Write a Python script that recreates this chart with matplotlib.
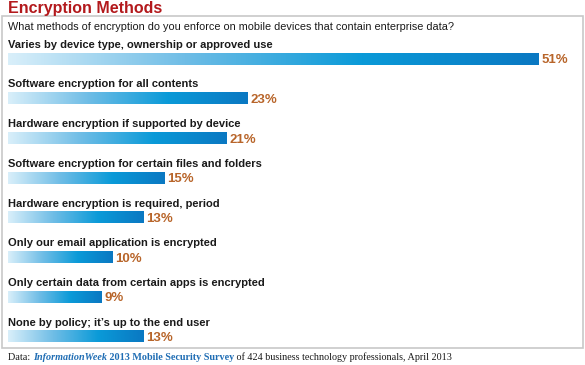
import numpy as np
import matplotlib.pyplot as plt
from matplotlib.colors import LinearSegmentedColormap
from matplotlib.patches import Rectangle

title = "Encryption Methods"
question = "What methods of encryption do you enforce on mobile devices that contain enterprise data?"
methods = [
    "Varies by device type, ownership or approved use",
    "Software encryption for all contents",
    "Hardware encryption if supported by device",
    "Software encryption for certain files and folders",
    "Hardware encryption is required, period",
    "Only our email application is encrypted",
    "Only certain data from certain apps is encrypted",
    "None by policy; it\u2019s up to the end user",
]
percents = [51, 23, 21, 15, 13, 10, 9, 13]

sans = "Liberation Sans"
blues = LinearSegmentedColormap.from_list("bar", ["#d9effa", "#6fbde6", "#0a9ad8", "#0a78c2"])
grad = np.linspace(0, 1, 256).reshape(1, -1)

fig = plt.figure(figsize=(5.85, 3.65), dpi=100)
W, H = 585, 365
renderer = fig.canvas.get_renderer()

# light gray frame
fig.patches.append(Rectangle((2 / W, 1 - 348 / H), 581 / W, 332 / H, transform=fig.transFigure,
                             fill=False, edgecolor="#c8c8c8", linewidth=1.2))

ax = fig.add_axes([8 / W, 0, (W - 8) / W, 1])
ax.axis("off")

h = 0.28
for i, (lab, v) in enumerate(zip(methods, percents)):
    ax.imshow(grad, cmap=blues, aspect="auto", extent=(0, v, i + h / 2, i - h / 2))
    ax.text(0, i - 0.36, lab, family=sans, fontweight="bold", fontsize=8,
            color="#1a1a1a", va="center", ha="left")
    ax.text(v + 0.3, i + 0.03, f"{v}%", family=sans, fontweight="bold", fontsize=9.5,
            color="#b8652a", va="center", ha="left")
ax.set_xlim(0, (W - 8) / 10.4)
ax.set_ylim((H - 59) / 39.7, -59 / 39.7)

fig.text(8 / W, 1 - 8 / H, title, family=sans, fontweight="bold", fontsize=11.5,
         color="#b3191c", va="center", ha="left")
fig.text(8 / W, 1 - 27 / H, question, family=sans, fontsize=7.8,
         color="#1a1a1a", va="center", ha="left")

# footer with mixed styles
pieces = [
    ("Data: ", "normal", "normal", "#1a1a1a"),
    ("InformationWeek", "italic", "bold", "#1f6db4"),
    (" 2013 Mobile Security Survey", "normal", "bold", "#1f6db4"),
    (" of 424 business technology professionals, April 2013", "normal", "normal", "#1a1a1a"),
]
x = 8 / W
for txt, style, weight, col in pieces:
    t = fig.text(x, 1 - 357 / H, txt, fontsize=7.3, family="Liberation Serif", style=style,
                 fontweight=weight, color=col, va="center", ha="left")
    bb = t.get_window_extent(renderer)
    x = bb.x1 / fig.bbox.width

fig.savefig("out.png", dpi=100)
